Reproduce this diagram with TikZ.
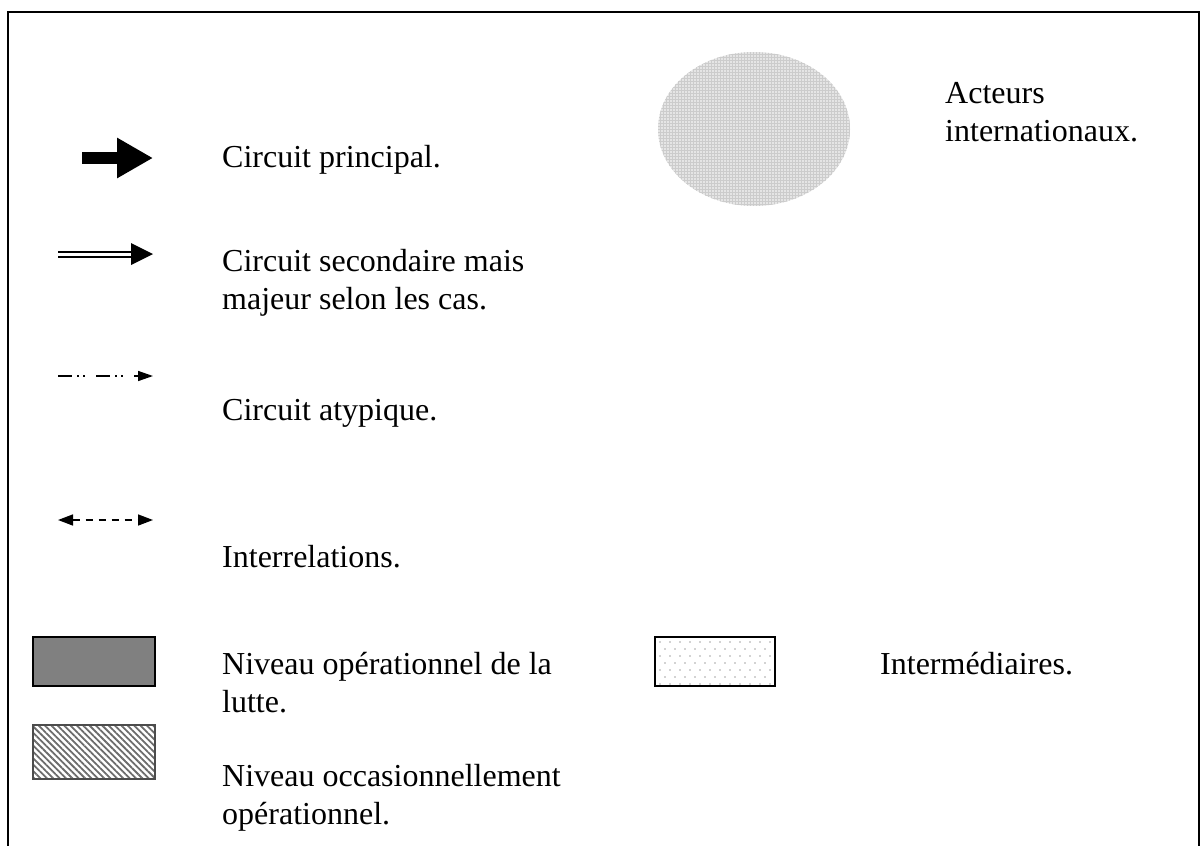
\documentclass[tikz,border=0pt]{standalone}
\usepackage{fontspec}
\setmainfont{Liberation Serif}
\usetikzlibrary{arrows.meta,patterns,patterns.meta,shapes.geometric}
\begin{document}
\begin{tikzpicture}[x=1pt,y=-1pt,
  lbl/.style={anchor=west, inner sep=0pt, align=left, font=\fontsize{32}{38}\selectfont},
  legendbox/.style={rectangle, minimum width=122pt, minimum height=49pt, inner sep=0pt},
  frameline/.style={line width=2pt, black}]
\useasboundingbox (0,0) rectangle (1200,846);
% frame
\draw[frameline] (8,850) -- (8,12) -- (1199,12) -- (1199,850);

% coordinates of legend samples
\coordinate (p1) at (82,158);  \coordinate (p2) at (153,158);
\coordinate (s1) at (58,254);  \coordinate (s2) at (131,254); \coordinate (s3) at (153,254);
\coordinate (a1) at (58,376);  \coordinate (a2) at (153,376);
\coordinate (i1) at (58,520);  \coordinate (i2) at (153,520);

% circuit principal
\draw[line width=12pt, -{Triangle[length=36pt,width=38pt]}] (p1) -- (p2);
% circuit secondaire
\draw[line width=2pt, double=white, double distance=3pt] (s1) -- ([xshift=2pt]s2);
\fill (s3) -- ([yshift=-11pt]s2) -- ([yshift=11pt]s2) -- cycle;
% circuit atypique
\draw[line width=1.5pt, dash pattern=on 14pt off 5pt on 1.5pt off 4.5pt on 1.5pt off 11.5pt,
      -{Triangle[length=15pt,width=10pt]}] (a1) -- (a2);
% interrelations
\draw[line width=1.5pt, dash pattern=on 7pt off 6pt,
      {Triangle[length=15pt,width=11pt]}-{Triangle[length=15pt,width=11pt]}] (i1) -- (i2);

% boxes
\node[legendbox, fill={rgb,255:red,128;green,128;blue,128}, draw=black, line width=2pt] (oper) at (94,661.5) {};
\node[legendbox, minimum height=54pt, pattern={Lines[angle=-45,distance=4.5pt,line width=1.8pt]}, pattern color=gray!85!black, draw=black!70, line width=1.2pt] (occas) at (94,752) {};
\node[legendbox, minimum width=120pt] (inter) at (715,661.5) {};
\begin{scope}
  \clip (inter.south west) rectangle (inter.north east);
  \foreach \i in {0,...,12} {
    \foreach \j in {0,...,6} {
      \pgfmathsetmacro{\dx}{660+10*\i+5*mod(\j,2)}
      \pgfmathsetmacro{\dy}{642+7*\j}
      \fill[gray!70] (\dx,\dy) circle (0.8pt);
    }
  }
\end{scope}
\draw[line width=1.5pt] (inter.south west) rectangle (inter.north east);

% ellipse
\node[ellipse, minimum width=192pt, minimum height=154pt, inner sep=0pt,
      preaction={fill=gray!20}, pattern=grid, pattern color=gray!40] (acteurs) at (754,129) {};

% labels
\node[lbl] (t1) at (222,160) {Circuit principal.};
\node[lbl] (t2) at (222,282.5) {Circuit secondaire mais\\majeur selon les cas.};
\node[lbl] (t3) at (222,413) {Circuit atypique.};
\node[lbl] (t4) at (222,557) {Interrelations.};
\node[lbl] (t5) at (222,683) {Niveau opérationnel de la\\lutte.};
\node[lbl] (t6) at (222,798) {Niveau occasionnellement\\opérationnel.};
\node[lbl] (t7) at (880,664) {Intermédiaires.};
\node[lbl] (t8) at (945,112) {Acteurs\\internationaux.};
\end{tikzpicture}
\end{document}
